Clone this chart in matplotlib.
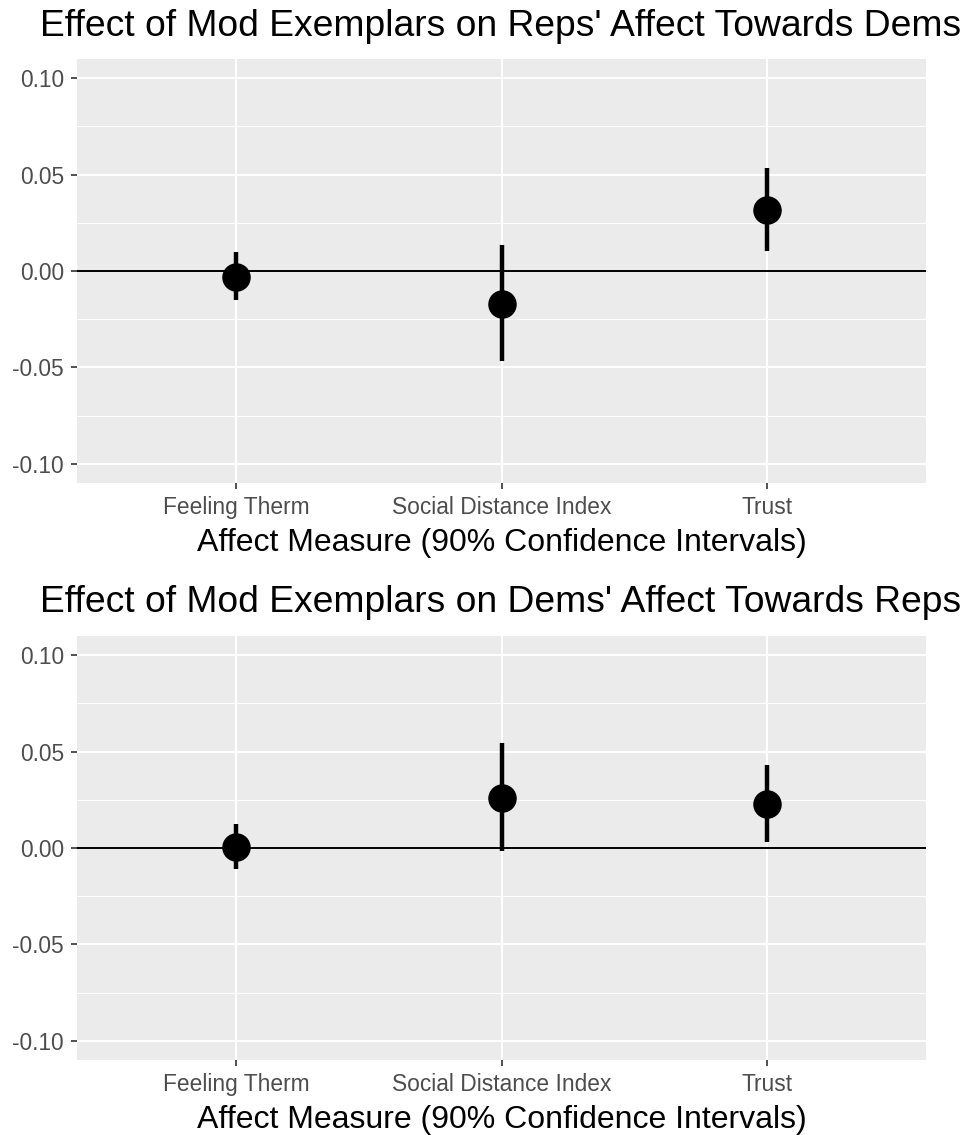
import matplotlib
matplotlib.use("Agg")
import matplotlib.pyplot as plt
import numpy as np

plt.rcParams['font.family'] = ['Liberation Sans', 'DejaVu Sans']

measures = ["Feeling Therm", "Social Distance Index", "Trust"]

# Reps' affect towards Dems
reps_est = [-0.003, -0.017, 0.0315]
reps_lo = [-0.0148, -0.0468, 0.0105]
reps_hi = [0.0096, 0.0135, 0.0535]

# Dems' affect towards Reps
dems_est = [0.0005, 0.026, 0.0229]
dems_lo = [-0.011, -0.0017, 0.003]
dems_hi = [0.0125, 0.0545, 0.043]

titles = ["Effect of Mod Exemplars on Reps' Affect Towards Dems",
          "Effect of Mod Exemplars on Dems' Affect Towards Reps"]
xlabel = "Affect Measure (90% Confidence Intervals)"
yticks = [-0.10, -0.05, 0.00, 0.05, 0.10]
ytick_labels = ["-0.10", "-0.05", "0.00", "0.05", "0.10"]

W, H = 967, 1135
fig = plt.figure(figsize=(W / 100, H / 100), dpi=100)

panels = [(59, reps_est, reps_lo, reps_hi), (636, dems_est, dems_lo, dems_hi)]

for i, (top, est, lo, hi) in enumerate(panels):
    ax = fig.add_axes([77 / W, 1 - (top + 424) / H, 849 / W, 424 / H])
    ax.set_facecolor('#EBEBEB')
    for s in ax.spines.values():
        s.set_visible(False)

    x = np.arange(len(measures))
    ax.set_xlim(-0.6, len(measures) - 1 + 0.6)
    ax.set_ylim(-0.11, 0.11)

    # grid
    ax.set_yticks(yticks)
    ax.set_yticklabels(ytick_labels)
    ax.set_yticks([-0.075, -0.025, 0.025, 0.075], minor=True)
    ax.set_xticks(x)
    ax.set_xticklabels(measures)
    ax.grid(which='major', color='white', linewidth=1.4)
    ax.grid(which='minor', axis='y', color='white', linewidth=0.7)
    ax.set_axisbelow(True)
    ax.tick_params(which='major', colors='#333333', length=4.5, width=1.2,
                   labelsize=16.4, labelcolor='#4D4D4D', pad=5)
    ax.tick_params(axis='x', pad=5)
    ax.tick_params(which='minor', length=0)

    ax.axhline(0, color='black', linewidth=1.4, zorder=2)
    ax.vlines(x, lo, hi, color='black', linewidth=3.2, zorder=3)
    ax.plot(x, est, 'o', color='black', markersize=19.5, zorder=4)

    ax.set_xlabel(xlabel, fontsize=23, color='black', labelpad=6.5)

    fig.text(40 / W, 1 - (top - 33) / H, titles[i], fontsize=26.8,
             ha='left', va='center', color='black')

fig.savefig("out.png", dpi=100, facecolor='white')
